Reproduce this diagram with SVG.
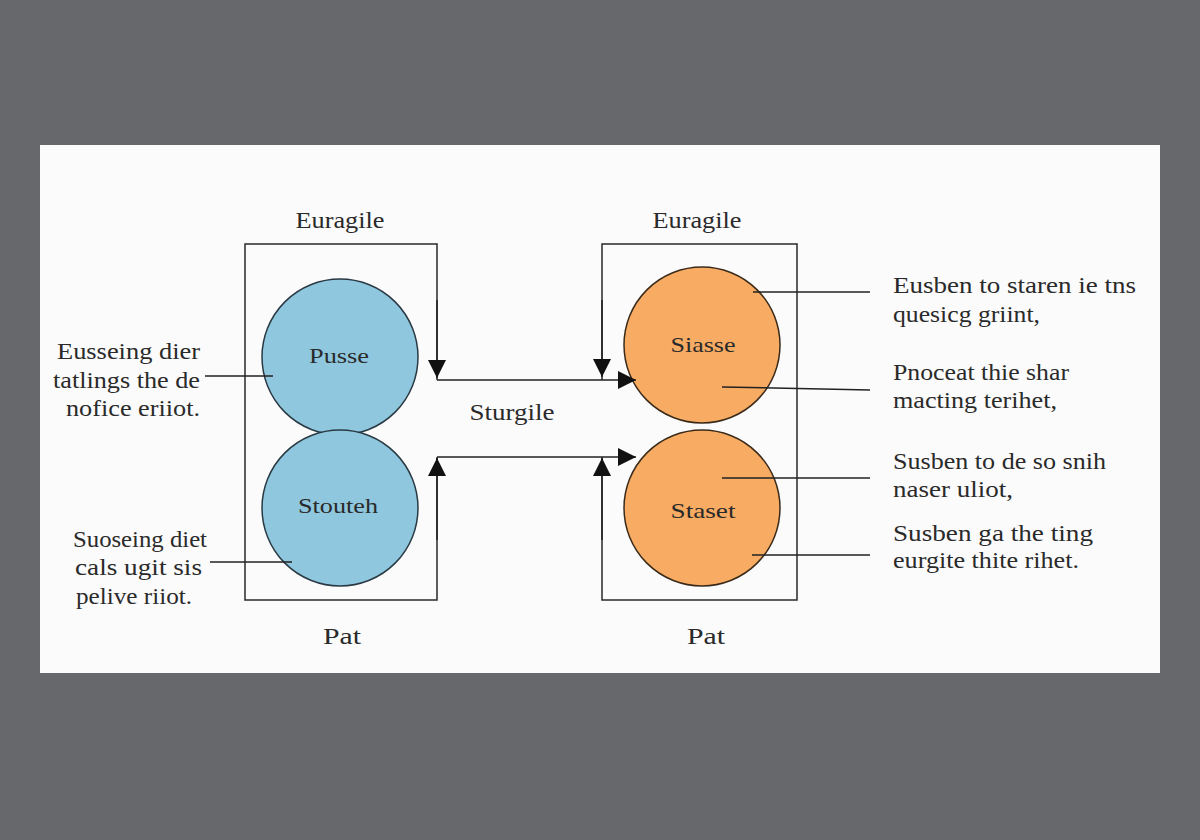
<svg xmlns="http://www.w3.org/2000/svg" width="1200" height="840" viewBox="0 0 1200 840">
<defs>
<marker id="ahb" viewBox="0 0 16 16" refX="16" refY="8" markerWidth="18" markerHeight="18" markerUnits="userSpaceOnUse" orient="auto"><path d="M0,0 L16,8 L0,16 z" fill="#111"/></marker>
<style>
text{font-family:"Liberation Serif","DejaVu Serif",serif;fill:#2a2a2a}
.t{font-size:24px}
.c{font-size:22px;text-anchor:middle}
.n{font-size:24px;text-anchor:middle}
.ln{stroke:#222;stroke-width:1.5;fill:none}
.box{stroke:#2a2a2a;stroke-width:1.5;fill:none}
.blue{fill:#8fc7de;stroke:#2a3a44;stroke-width:1.5}
.orange{fill:#f8ab62;stroke:#3a2a1a;stroke-width:1.5}
</style>
</defs>
<rect x="0" y="0" width="1200" height="840" fill="#67686b"/>
<rect x="40" y="145" width="1120" height="528" fill="#fbfbfb"/>

<g id="left-box">
<path class="box" d="M437,380 L437,244 L245,244 L245,600 L437,600 L437,457"/>
<text class="n" x="340" y="228" textLength="89" lengthAdjust="spacingAndGlyphs">Euragile</text>
<text class="n" x="342" y="644" textLength="38" lengthAdjust="spacingAndGlyphs">Pat</text>
</g>
<g id="right-box">
<path class="box" d="M602,380 L602,244 L797,244 L797,600 L602,600 L602,457"/>
<text class="n" x="697" y="228" textLength="89" lengthAdjust="spacingAndGlyphs">Euragile</text>
<text class="n" x="706" y="644" textLength="38" lengthAdjust="spacingAndGlyphs">Pat</text>
</g>

<g id="node-pusse">
<circle class="blue" cx="340" cy="357" r="78"/>
<text class="c" x="339" y="363" textLength="60" lengthAdjust="spacingAndGlyphs">Pusse</text>
</g>
<g id="node-stouteh">
<circle class="blue" cx="340" cy="508" r="78"/>
<text class="c" x="338" y="513" textLength="80" lengthAdjust="spacingAndGlyphs">Stouteh</text>
</g>
<g id="node-siasse">
<circle class="orange" cx="702" cy="345" r="78"/>
<text class="c" x="703" y="352" textLength="65" lengthAdjust="spacingAndGlyphs">Siasse</text>
</g>
<g id="node-staset">
<circle class="orange" cx="702" cy="508" r="78"/>
<text class="c" x="703" y="518" textLength="65" lengthAdjust="spacingAndGlyphs">Staset</text>
</g>

<g id="connectors">
<line class="ln" x1="437" y1="300" x2="437" y2="378" marker-end="url(#ahb)"/>
<line class="ln" x1="602" y1="300" x2="602" y2="377" marker-end="url(#ahb)"/>
<line class="ln" x1="437" y1="380" x2="636" y2="380" marker-end="url(#ahb)"/>
<line class="ln" x1="437" y1="457" x2="636" y2="457" marker-end="url(#ahb)"/>
<line class="ln" x1="437" y1="540" x2="437" y2="458" marker-end="url(#ahb)"/>
<line class="ln" x1="602" y1="540" x2="602" y2="458" marker-end="url(#ahb)"/>
<text class="n" x="512" y="420" textLength="85" lengthAdjust="spacingAndGlyphs">Sturgile</text>
<line class="ln" x1="205" y1="376" x2="273" y2="376"/>
<line class="ln" x1="210" y1="562" x2="292" y2="562"/>
<line class="ln" x1="753" y1="292" x2="870" y2="292"/>
<line class="ln" x1="722" y1="387" x2="870" y2="390"/>
<line class="ln" x1="722" y1="478" x2="870" y2="478"/>
<line class="ln" x1="752" y1="555" x2="870" y2="555"/>
</g>

<g id="annotations">
<text class="t" x="57" y="359" textLength="143" lengthAdjust="spacingAndGlyphs">Eusseing dier</text>
<text class="t" x="53" y="388" textLength="147" lengthAdjust="spacingAndGlyphs">tatlings the de</text>
<text class="t" x="66" y="416" textLength="134" lengthAdjust="spacingAndGlyphs">nofice eriiot.</text>
<text class="t" x="73" y="547" textLength="134" lengthAdjust="spacingAndGlyphs">Suoseing diet</text>
<text class="t" x="75" y="575" textLength="127" lengthAdjust="spacingAndGlyphs">cals ugit sis</text>
<text class="t" x="76" y="604" textLength="116" lengthAdjust="spacingAndGlyphs">pelive riiot.</text>
<text class="t" x="893" y="293" textLength="243" lengthAdjust="spacingAndGlyphs">Eusben to staren ie tns</text>
<text class="t" x="893" y="322" textLength="147" lengthAdjust="spacingAndGlyphs">quesicg griint,</text>
<text class="t" x="893" y="380" textLength="176" lengthAdjust="spacingAndGlyphs">Pnoceat thie shar</text>
<text class="t" x="893" y="408" textLength="164" lengthAdjust="spacingAndGlyphs">macting terihet,</text>
<text class="t" x="893" y="469" textLength="213" lengthAdjust="spacingAndGlyphs">Susben to de so snih</text>
<text class="t" x="893" y="497" textLength="120" lengthAdjust="spacingAndGlyphs">naser uliot,</text>
<text class="t" x="893" y="541" textLength="200" lengthAdjust="spacingAndGlyphs">Susben ga the ting</text>
<text class="t" x="893" y="568" textLength="186" lengthAdjust="spacingAndGlyphs">eurgite thite rihet.</text>
</g>
</svg>
